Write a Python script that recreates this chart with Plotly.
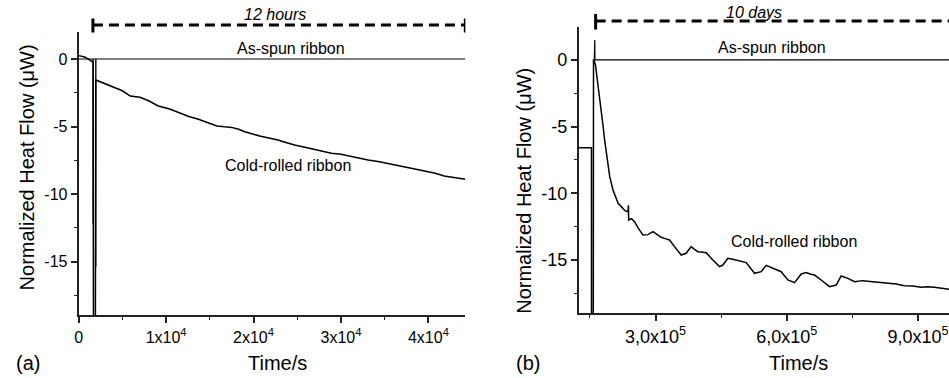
import plotly.graph_objects as go

# ---------------- data: panel (a) 12 hours ----------------
a_cold_t = [0, 700, 1200, 1650, 1700, 1900, 1950, 2900, 3800, 5000, 5900, 7000, 8000, 9100,
            10400, 11400, 12600, 13700, 14800, 15800, 16700, 17500, 18300, 19000, 20700,
            21800, 22800, 23800, 24700, 26000, 27200, 28900, 30000, 31200, 32200, 33100,
            34400, 35700, 37000, 38000, 39700, 40800, 41800, 43000, 44225]
a_cold_v = [0.25, 0.15, -0.05, -0.25, -25, -25, -1.55, -1.8, -2.0, -2.35, -2.74, -2.83, -3.09, -3.48,
            -3.7, -3.97, -4.25, -4.46, -4.75, -4.96, -5.02, -5.06, -5.2, -5.38, -5.7,
            -5.85, -6.0, -6.2, -6.37, -6.55, -6.74, -6.98, -7.05, -7.23, -7.4, -7.48,
            -7.6, -7.77, -7.95, -8.09, -8.27, -8.45, -8.66, -8.8, -8.9]
a_spun_t = [0, 1640, 1650, 1660, 1950, 1960, 1970, 44225]
a_spun_v = [0, 0, -12.2, 0, 0, -15.4, 0, 0]

# ---------------- data: panel (b) 10 days ----------------
b_cold_t = [124700, 152000, 153500, 153600, 157500, 158200, 159300, 162700, 167300, 172500,
            176000, 180200, 183500, 187800, 191300, 195300, 202700, 206700, 214400, 221700,
            225800, 230000, 236900, 238000, 238500, 245000, 252000, 260000, 271200, 282600,
            294000, 303000, 313000, 322000, 332000, 343400, 358700, 370000, 381500, 389000,
            396800, 405000, 415900, 431000, 446200, 453900, 465300, 476700, 488200, 497000,
            507200, 526200, 541500, 552900, 568100, 587200, 602500, 617700, 633000, 644300,
            653000, 663400, 678600, 697700, 713000, 724300, 739600, 754900, 773000, 792900,
            812000, 831000, 850000, 869000, 888000, 907100, 922000, 937500, 955000, 970800]
b_cold_v = [-6.58, -6.58, -6.58, -25, -25, 0.0, 0.0, -0.38, -1.5, -2.75,
            -3.75, -5.0, -6.0, -7.13, -8.0, -8.75, -9.75, -10.13, -10.75, -11.0,
            -11.13, -11.3, -11.38, -10.9, -12.0, -11.9, -12.13, -12.6, -13.13, -13.1,
            -12.88, -13.05, -13.3, -13.4, -13.5, -14.0, -14.63, -14.5, -14.0, -14.2,
            -14.38, -14.4, -14.46, -15.0, -15.5, -15.38, -14.88, -14.95, -15.06, -15.1,
            -15.2, -16.0, -15.88, -15.4, -15.63, -15.88, -16.5, -16.7, -16.05, -15.95,
            -16.05, -16.13, -16.5, -17.0, -16.88, -16.2, -16.38, -16.63, -16.55, -16.6,
            -16.7, -16.75, -16.8, -16.93, -16.95, -17.05, -17.0, -17.05, -17.1, -17.2]
b_spun_t = [160000, 161100, 161500, 970800]
b_spun_v = [0, 1.5, 0, 0]

# time spans marked by the dashed bars
span_a = [1630, 44225]
span_b = [163000, 970800]

a_xticks = [0, 10000, 20000, 30000, 40000]
a_xtext = ["0", "1x10<sup>4</sup>", "2x10<sup>4</sup>", "3x10<sup>4</sup>", "4x10<sup>4</sup>"]
b_xticks = [300000, 600000, 900000]
b_xtext = ["3,0x10<sup>5</sup>", "6,0x10<sup>5</sup>", "9,0x10<sup>5</sup>"]
yticks = [0, -5, -10, -15]
ytext = ["0", "-5", "-10", "-15"]

FONT = "Liberation Sans, Arial, sans-serif"
W, H = 949, 378


def px(v):
    return v / W


def py(v):
    return 1 - v / H


fig = go.Figure()
line = dict(color="black", width=1.5)
fig.add_trace(go.Scatter(x=a_cold_t, y=a_cold_v, mode="lines", line=line, xaxis="x", yaxis="y"))
fig.add_trace(go.Scatter(x=a_spun_t, y=a_spun_v, mode="lines", line=dict(color="black", width=1.2), xaxis="x", yaxis="y"))
fig.add_trace(go.Scatter(x=b_cold_t, y=b_cold_v, mode="lines", line=line, xaxis="x2", yaxis="y2"))
fig.add_trace(go.Scatter(x=b_spun_t, y=b_spun_v, mode="lines", line=dict(color="black", width=1.2), xaxis="x2", yaxis="y2"))


def axstyle(size):
    return dict(showgrid=False, zeroline=False, showline=True, linecolor="#222", linewidth=2,
                ticks="outside", ticklen=6, tickwidth=1.5, tickcolor="#222",
                tickfont=dict(family=FONT, size=size, color="black"), fixedrange=True)


minor_common = dict(ticks="outside", ticklen=3, tickcolor="#222", tickwidth=1.2)

fig.update_layout(
    width=W, height=H, margin=dict(l=0, r=0, t=0, b=0),
    paper_bgcolor="white", plot_bgcolor="white", showlegend=False,
    xaxis=dict(**axstyle(16), domain=[px(75), px(463.3)], range=[0, 44225], anchor="y",
               tickvals=a_xticks, ticktext=a_xtext, minor=dict(dtick=5000, tick0=0, **minor_common)),
    yaxis=dict(**axstyle(16), domain=[py(315.3), py(32)], range=[-18.97, 2.0], anchor="x",
               tickvals=yticks, ticktext=ytext, minor=dict(dtick=2.5, tick0=0, **minor_common)),
    xaxis2=dict(**axstyle(18), domain=[px(577.3), 1.0], range=[124700, 970800], anchor="y2",
                tickvals=b_xticks, ticktext=b_xtext, minor=dict(dtick=150000, tick0=0, **minor_common)),
    yaxis2=dict(**axstyle(18), domain=[py(313.3), py(27.3)], range=[-19.0, 2.45], anchor="x2",
                tickvals=yticks, ticktext=ytext, minor=dict(dtick=2.5, tick0=0, **minor_common)),
)


# dashed span bars (x in data units, y in paper units above the plots)
def span(xref, s, ends, ypix, ytop, ybot):
    fig.add_shape(type="line", xref=xref, yref="paper", x0=s[0], x1=s[1], y0=py(ypix), y1=py(ypix),
                  line=dict(color="black", width=3, dash="10px,6px"))
    for xv in ends:
        fig.add_shape(type="line", xref=xref, yref="paper", x0=xv, x1=xv,
                      y0=py(ytop), y1=py(ybot), line=dict(color="black", width=3))


span("x", span_a, span_a, 25, 18.5, 32.5)
span("x2", span_b, [span_b[0]], 21, 14, 29.5)


def ann(text, x, y, size=16, **kw):
    fig.add_annotation(text=text, x=px(x), y=py(y), xref="paper", yref="paper",
                       showarrow=False, xanchor="center", yanchor="middle",
                       font=dict(family=FONT, size=size, color="black"), **kw)


ann("<i>12 hours</i>", 272.3, 15)
ann("<i>10 days</i>", 753.3, 12.7)
ann("As-spun ribbon", 288.3, 48)
ann("As-spun ribbon", 771.3, 47.5)
ann("Cold-rolled ribbon", 284.7, 166)
ann("Cold-rolled ribbon", 793.7, 241.7)
ann("Time/s", 275, 363, size=20)
ann("Time/s", 797.5, 363, size=20)
ann("(a)", 24.2, 363, size=20)
ann("(b)", 525.8, 363, size=20)
ann("Normalized Heat Flow (μW)", 23, 167.5, size=20, textangle=-90)
ann("Normalized Heat Flow (μW)", 522, 191, size=20, textangle=-90)

fig.write_html("out.html", config={"displayModeBar": False},
               post_script="document.body.style.margin='0px';")
